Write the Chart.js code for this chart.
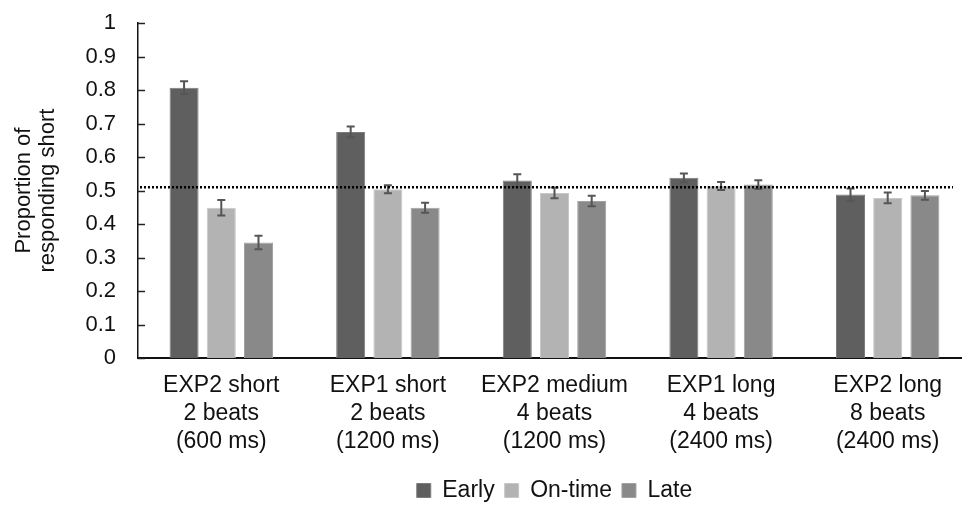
<!DOCTYPE html>
<html>
<head>
<meta charset="utf-8">
<script src="https://cdn.jsdelivr.net/npm/chart.js@4.4.1/dist/chart.umd.min.js"></script>
<style>
  html, body { margin: 0; padding: 0; background: #fff; overflow: hidden; }
  #wrap { position: absolute; left: 0; top: 0; width: 980px; height: 512px; }
</style>
</head>
<body>
<div id="wrap"><canvas id="chart"></canvas></div>
<script>
// ── Data ───────────────────────────────────────
const categories = [
  ['EXP2 short', '2 beats', '(600 ms)'],
  ['EXP1 short', '2 beats', '(1200 ms)'],
  ['EXP2 medium', '4 beats', '(1200 ms)'],
  ['EXP1 long', '4 beats', '(2400 ms)'],
  ['EXP2 long', '8 beats', '(2400 ms)']
];
const early   = [0.807, 0.675, 0.530, 0.538, 0.488];
const onTime  = [0.449, 0.504, 0.493, 0.514, 0.478];
const late    = [0.345, 0.449, 0.469, 0.518, 0.486];
const earlyErr  = [0.019, 0.016, 0.019, 0.013, 0.018];
const onTimeErr = [0.023, 0.012, 0.016, 0.012, 0.016];
const lateErr   = [0.020, 0.015, 0.016, 0.013, 0.013];
const chanceLevel = 0.51;
const yTicks = [0, 0.1, 0.2, 0.3, 0.4, 0.5, 0.6, 0.7, 0.8, 0.9, 1];

const FONT = "'Liberation Sans', Arial, sans-serif";

// ── Error bars, inner ticks and chance line ────
const extrasPlugin = {
  id: 'extras',
  afterDatasetsDraw(chart) {
    const { ctx, chartArea, scales } = chart;
    const y = scales.y;

    // inward tick marks on the y axis
    ctx.save();
    ctx.strokeStyle = '#222';
    ctx.lineWidth = 1.5;
    yTicks.forEach(v => {
      const py = Math.round(y.getPixelForValue(v)) + 0.5;
      ctx.beginPath();
      ctx.moveTo(chartArea.left, py);
      ctx.lineTo(chartArea.left + 7, py);
      ctx.stroke();
    });
    ctx.restore();

    // error bars
    ctx.save();
    ctx.strokeStyle = '#555';
    ctx.lineWidth = 2;
    chart.data.datasets.forEach((ds, i) => {
      const meta = chart.getDatasetMeta(i);
      meta.data.forEach((bar, j) => {
        const v = ds.data[j], e = ds.err[j];
        const top = y.getPixelForValue(v + e);
        const bot = y.getPixelForValue(v - e);
        ctx.beginPath();
        ctx.moveTo(bar.x, top); ctx.lineTo(bar.x, bot);
        ctx.moveTo(bar.x - 4, top); ctx.lineTo(bar.x + 4, top);
        ctx.moveTo(bar.x - 4, bot); ctx.lineTo(bar.x + 4, bot);
        ctx.stroke();
      });
    });
    ctx.restore();

    // dotted chance line
    const py = y.getPixelForValue(chanceLevel);
    ctx.save();
    ctx.strokeStyle = '#000';
    ctx.lineWidth = 2.5;
    ctx.setLineDash([2, 2]);
    ctx.beginPath();
    ctx.moveTo(chartArea.left + 2, py);
    ctx.lineTo(chartArea.right - 18, py);
    ctx.stroke();
    ctx.restore();
  }
};

// ── Chart ──────────────────────────────────────
new Chart(document.getElementById('chart'), {
  type: 'bar',
  data: {
    labels: categories,
    datasets: [
      { label: 'Early',   data: early,  err: earlyErr,  backgroundColor: '#5f5f5f', borderColor: '#7c7c7c', borderWidth: 1 },
      { label: 'On-time', data: onTime, err: onTimeErr, backgroundColor: '#b3b3b3', borderColor: '#c8c8c8', borderWidth: 1 },
      { label: 'Late',    data: late,   err: lateErr,   backgroundColor: '#898989', borderColor: '#a2a2a2', borderWidth: 1 }
    ]
  },
  options: {
    responsive: true,
    maintainAspectRatio: false,
    animation: false,
    layout: { padding: { top: 0, right: 9, left: 12, bottom: 0 } },
    datasets: { bar: { categoryPercentage: 0.67, barPercentage: 0.78 } },
    plugins: {
      legend: {
        position: 'bottom',
        fullSize: false,
        labels: {
          boxWidth: 14, boxHeight: 14, padding: 10,
          color: '#111',
          font: { family: FONT, size: 23 }
        }
      },
      tooltip: { enabled: false }
    },
    scales: {
      x: {
        grid: { display: false, drawTicks: false },
        border: { display: true, color: '#111', width: 2 },
        ticks: {
          color: '#111', padding: 14, maxRotation: 0, autoSkip: false,
          font: { family: FONT, size: 23, lineHeight: 1.2 }
        }
      },
      y: {
        min: 0, max: 1,
        afterBuildTicks: axis => { axis.ticks = yTicks.map(v => ({ value: v })); },
        // tick padding would otherwise be added above the top label
        afterFit: axis => { axis.paddingTop = 23; },
        grid: { display: false, drawTicks: false },
        border: { display: true, color: '#111', width: 1.5 },
        ticks: {
          color: '#111', padding: 22,
          font: { family: FONT, size: 22 },
          callback: v => String(v)
        },
        title: {
          display: true,
          text: ['Proportion of', 'responding short'],
          color: '#111',
          padding: { top: 0, bottom: 3 },
          font: { family: FONT, size: 22, lineHeight: 1.1 }
        }
      }
    }
  },
  plugins: [extrasPlugin]
});
</script>
</body>
</html>
